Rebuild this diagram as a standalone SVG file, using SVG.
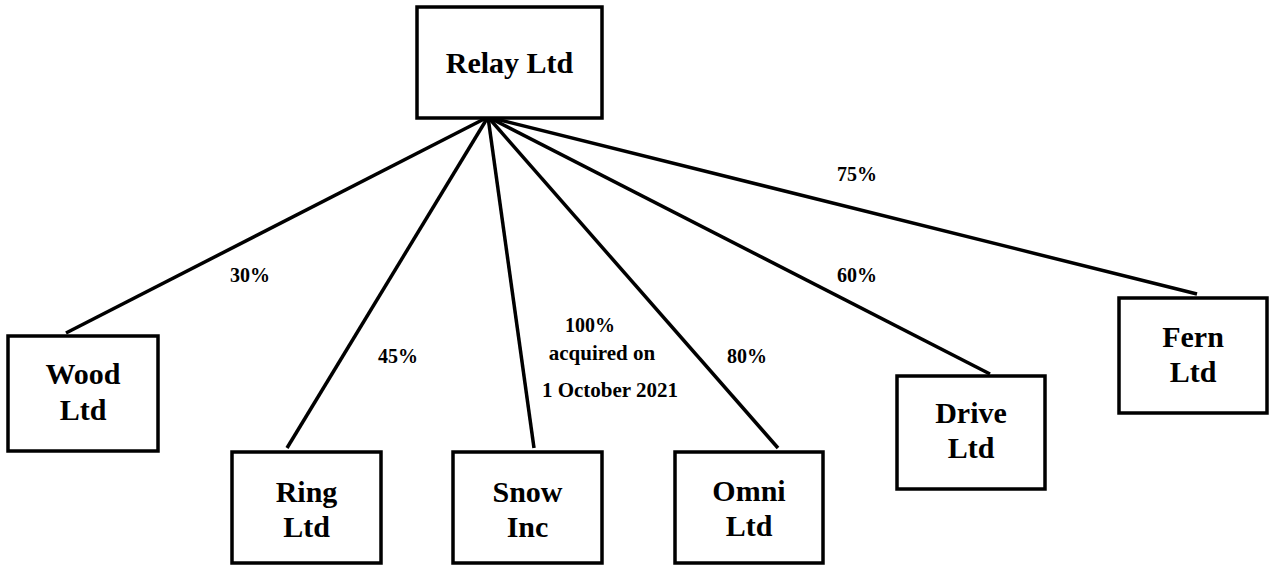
<svg xmlns="http://www.w3.org/2000/svg" width="1269" height="565" viewBox="0 0 1269 565">
<style>
.box{fill:#fff;stroke:#000;stroke-width:3.5}
.conn{stroke:#000;stroke-width:3.5;fill:none}
.nt{font-family:"Liberation Serif",serif;font-weight:bold;font-size:30px;text-anchor:middle;fill:#000}
.lb{font-family:"Liberation Serif",serif;font-weight:bold;font-size:20px;text-anchor:middle;fill:#000}
.lb2{font-family:"Liberation Serif",serif;font-weight:bold;font-size:21px;text-anchor:middle;fill:#000}
</style>
<rect width="1269" height="565" fill="#fff"/>
<g id="connectors">
<line class="conn" x1="488" y1="117" x2="66" y2="333"/>
<line class="conn" x1="488" y1="117" x2="287" y2="448"/>
<line class="conn" x1="488" y1="117" x2="534" y2="448"/>
<line class="conn" x1="488" y1="117" x2="778" y2="448"/>
<line class="conn" x1="488" y1="117" x2="990" y2="374"/>
<line class="conn" x1="488" y1="117" x2="1197" y2="294"/>
</g>
<g id="labels">
<text class="lb" x="250" y="282">30%</text>
<text class="lb" x="398" y="363">45%</text>
<text class="lb" x="590" y="332">100%</text>
<text class="lb2" x="602" y="360">acquired on</text>
<text class="lb2" x="610" y="397">1 October 2021</text>
<text class="lb" x="747" y="363">80%</text>
<text class="lb" x="857" y="282">60%</text>
<text class="lb" x="857" y="181">75%</text>
</g>
<g id="relay">
<rect class="box" x="417" y="7" width="185" height="111"/>
<text class="nt" x="509.5" y="73">Relay Ltd</text>
</g>
<g id="wood">
<rect class="box" x="8" y="336" width="150" height="115"/>
<text class="nt" x="83" y="384">Wood</text>
<text class="nt" x="83" y="420">Ltd</text>
</g>
<g id="ring">
<rect class="box" x="232" y="452" width="149" height="111"/>
<text class="nt" x="306.5" y="502">Ring</text>
<text class="nt" x="306.5" y="537">Ltd</text>
</g>
<g id="snow">
<rect class="box" x="453" y="452" width="149" height="111"/>
<text class="nt" x="527.5" y="502">Snow</text>
<text class="nt" x="527.5" y="537">Inc</text>
</g>
<g id="omni">
<rect class="box" x="675" y="452" width="148" height="111"/>
<text class="nt" x="749" y="501">Omni</text>
<text class="nt" x="749" y="536">Ltd</text>
</g>
<g id="drive">
<rect class="box" x="897" y="376" width="148" height="113"/>
<text class="nt" x="971" y="423">Drive</text>
<text class="nt" x="971" y="458">Ltd</text>
</g>
<g id="fern">
<rect class="box" x="1119" y="298" width="148" height="115"/>
<text class="nt" x="1193" y="347">Fern</text>
<text class="nt" x="1193" y="382">Ltd</text>
</g>
</svg>
